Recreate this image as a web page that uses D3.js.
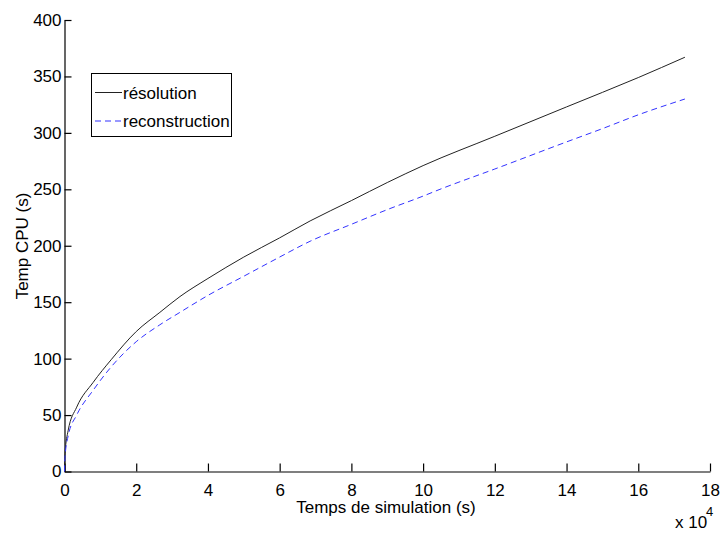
<!DOCTYPE html>
<html>
<head>
<meta charset="utf-8">
<script src="https://cdn.jsdelivr.net/npm/d3@7/dist/d3.min.js"></script>
<style>
  html, body { margin: 0; padding: 0; background: #fff; }
  svg { display: block; font-family: "Liberation Sans", Arial, sans-serif; }
</style>
</head>
<body>
<svg id="chart" width="721" height="533"></svg>
<script>
// Simulation time (x 10^4 s)
const timeResolution = [0, 0.014, 0.1, 0.34, 0.8, 1.3, 2.0, 2.66, 3.22, 4, 5, 6, 6.85, 8, 9, 10, 12, 14, 16, 17.3];
// CPU time (s) for "résolution"
const cpuResolution  = [0, 16, 36, 57, 79, 99, 124, 141, 155, 171, 190, 207, 222, 240, 256, 271, 297, 323, 349, 367];

const timeReconstruction = [0, 0.014, 0.106, 0.34, 0.8, 1.27, 2.0, 2.66, 3.22, 4, 5, 6, 6.85, 8, 9, 10, 10.47, 12, 14, 15.02, 16, 17.3];
const cpuReconstruction  = [0, 13, 32, 50, 72, 91.5, 115, 130, 141, 156, 173, 190, 204, 219, 232, 244, 250, 268, 292, 304, 316, 330];

const xTicks = [0, 2, 4, 6, 8, 10, 12, 14, 16, 18];
const yTicks = [0, 50, 100, 150, 200, 250, 300, 350, 400];
const seriesNames = ["résolution", "reconstruction"];

const svg = d3.select("#chart");
const x = d3.scaleLinear().domain([0, 18]).range([64.5, 710]);
const y = d3.scaleLinear().domain([0, 400]).range([471.5, 20]);

const fontSize = 17;

// axes
const xAxis = d3.axisBottom(x).tickValues(xTicks).tickFormat(d3.format("d"))
  .tickSizeInner(-8).tickSizeOuter(0).tickPadding(12);
const yAxis = d3.axisLeft(y).tickValues(yTicks).tickFormat(d3.format("d"))
  .tickSizeInner(-7).tickSizeOuter(0).tickPadding(3);

const gx = svg.append("g").attr("transform", `translate(0,${y(0)})`).call(xAxis);
const gy = svg.append("g").attr("transform", `translate(${x(0)},0)`).call(yAxis);
[gx, gy].forEach(g => {
  g.selectAll("path.domain").attr("stroke", "#000").attr("stroke-width", 1.2);
  g.selectAll(".tick line").attr("stroke", "#000").attr("stroke-width", 1.2);
  g.selectAll(".tick text").attr("fill", "#000")
    .style("font-size", fontSize + "px").style("font-family", "Liberation Sans, Arial, sans-serif");
});

// lines
const line = d3.line().x(d => x(d[0])).y(d => y(d[1])).curve(d3.curveMonotoneX);
const resData = timeResolution.map((t, i) => [t, cpuResolution[i]]);
const recData = timeReconstruction.map((t, i) => [t, cpuReconstruction[i]]);

svg.append("path").datum(resData).attr("d", line)
  .attr("fill", "none").attr("stroke", "#222").attr("stroke-width", 1);
svg.append("path").datum(recData).attr("d", line)
  .attr("fill", "none").attr("stroke", "#3333ff").attr("stroke-width", 1)
  .attr("stroke-dasharray", "6,4");

// axis titles
svg.append("text").attr("x", 386).attr("y", 513).attr("text-anchor", "middle")
  .style("font-size", fontSize + "px").attr("fill", "#000")
  .text("Temps de simulation (s)");

svg.append("text").attr("transform", "translate(28,246) rotate(-90)")
  .attr("text-anchor", "middle").style("font-size", fontSize + "px").attr("fill", "#000")
  .text("Temp CPU (s)");

// exponent
svg.append("text").attr("x", 675).attr("y", 528)
  .style("font-size", fontSize + "px").attr("fill", "#000").text("x 10");
svg.append("text").attr("x", 706).attr("y", 516)
  .style("font-size", "13px").attr("fill", "#000").text("4");

// legend
const lg = svg.append("g");
lg.append("rect").attr("x", 91.5).attr("y", 73.5).attr("width", 140).attr("height", 63)
  .attr("fill", "#fff").attr("stroke", "#000").attr("stroke-width", 1);
const legendRows = [
  { name: seriesNames[0], y: 92.5, stroke: "#222", dash: null, ty: 98.5 },
  { name: seriesNames[1], y: 121, stroke: "#3333ff", dash: "6,4", ty: 127 }
];
legendRows.forEach(r => {
  lg.append("line").attr("x1", 95).attr("x2", 122).attr("y1", r.y).attr("y2", r.y)
    .attr("stroke", r.stroke).attr("stroke-width", 1)
    .attr("stroke-dasharray", r.dash);
  lg.append("text").attr("x", 123).attr("y", r.ty)
    .style("font-size", fontSize + "px").attr("fill", "#000").text(r.name);
});
</script>
</body>
</html>
